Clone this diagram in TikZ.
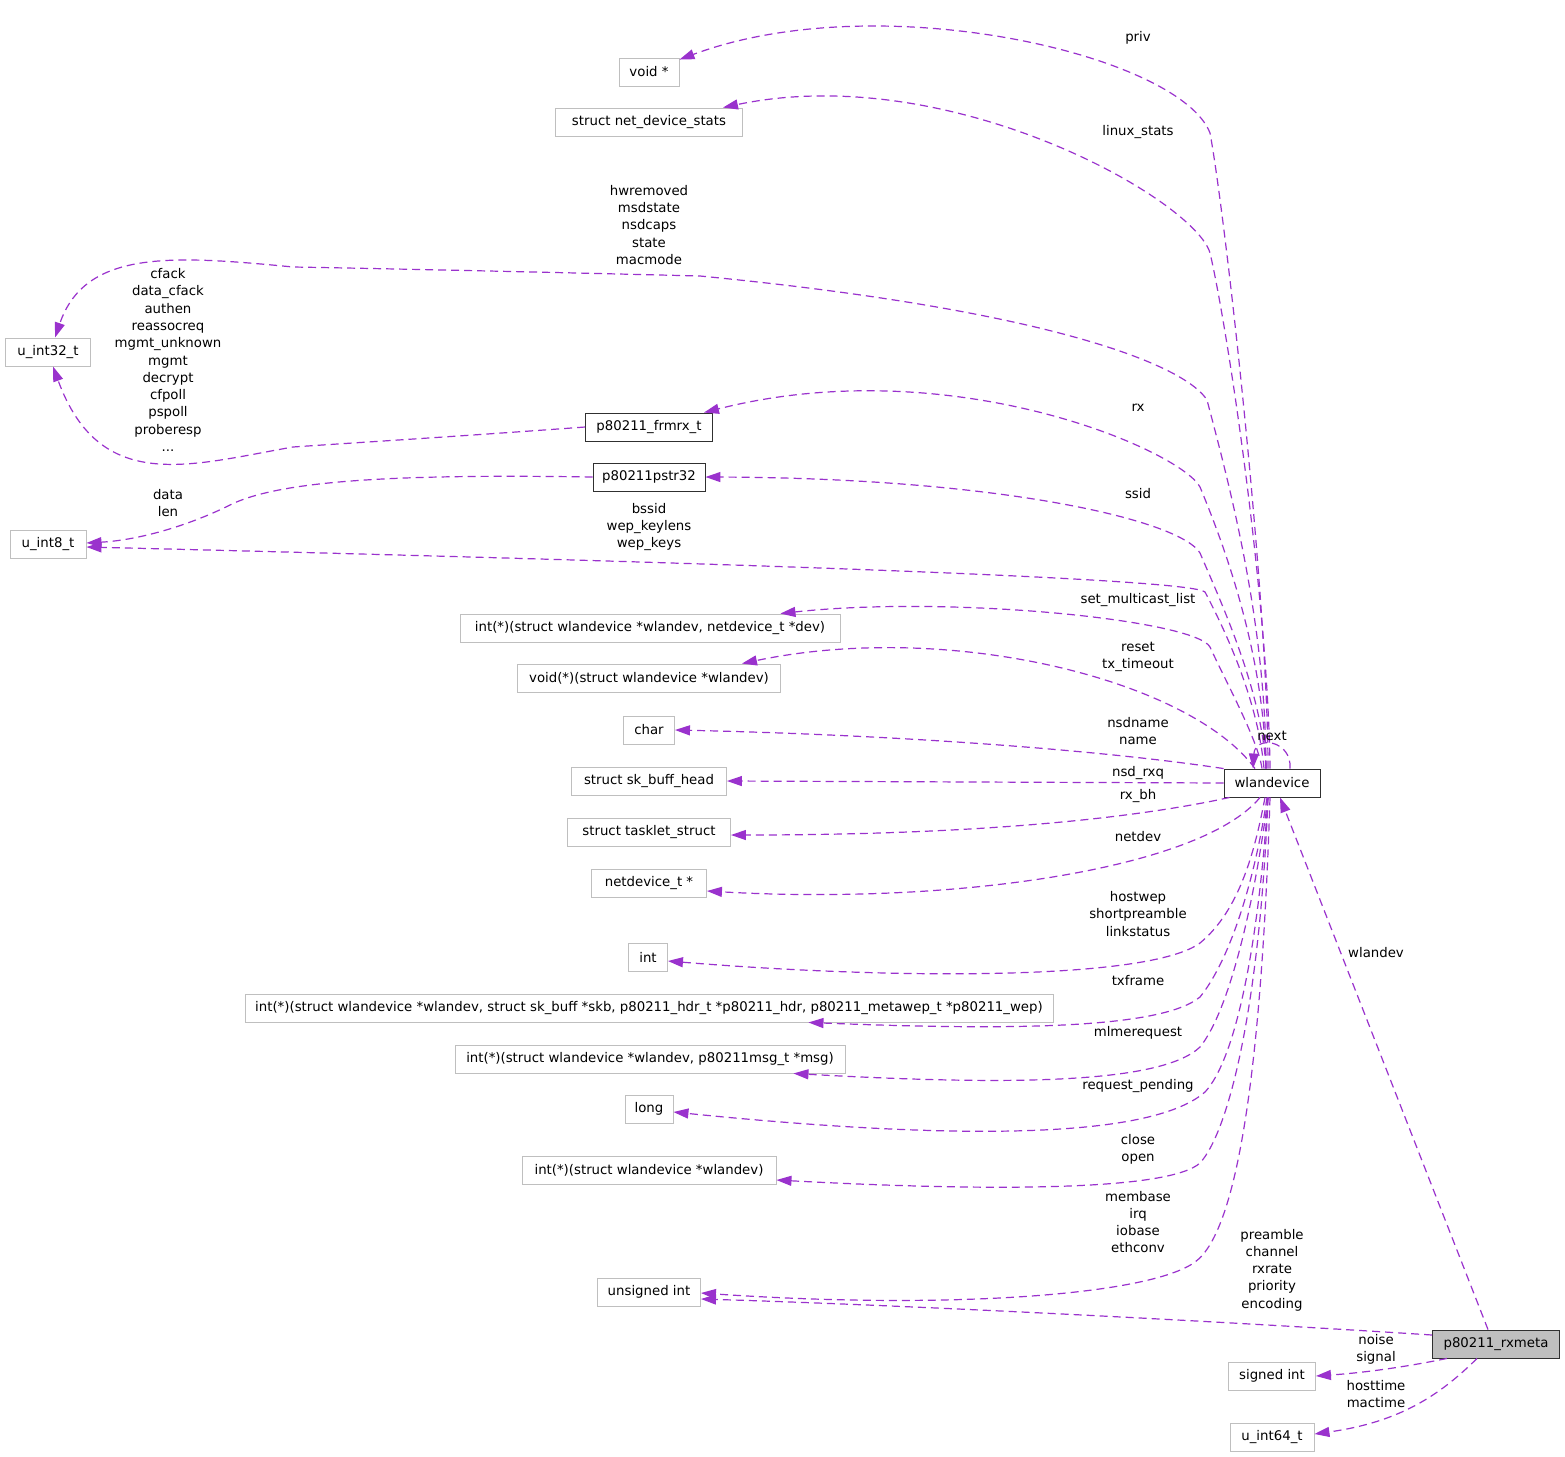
\documentclass[tikz,border=0pt]{standalone}
\usepackage{fontspec}
\setmainfont{DejaVu Sans}
\usetikzlibrary{arrows.meta}
\definecolor{edgepurple}{HTML}{9A32CD}
\definecolor{boxgrey}{HTML}{BFBFBF}
\definecolor{boxdark}{HTML}{303030}

\begin{document}
\begin{tikzpicture}[x=1pt, y=-1pt,
    every node/.style={font=\fontsize{13.3}{17.3}\selectfont},
    ext/.style={draw=boxgrey, line width=0.9pt, fill=white, minimum height=28pt, inner sep=0pt},
    doc/.style={ext, draw=boxdark},
    cur/.style={doc, fill=boxgrey},
    dep/.style={->, >={Triangle[length=15pt,width=10pt]}, edgepurple, line width=1.2pt, dash pattern=on 8pt off 5pt},
    lbl/.style={align=center, inner sep=0pt}]
    \path[fill=white, use as bounding box] (0,0) rectangle (1565,1456);

    \node[ext, minimum width=60pt] (void) at (649,72) {void *};
    \node[ext, minimum width=187pt] (nds) at (649,122) {struct net\_device\_stats};
    \node[ext, minimum width=85pt] (u32) at (48,352) {u\_int32\_t};
    \node[doc, minimum width=127pt] (frmrx) at (649,427) {p80211\_frmrx\_t};
    \node[doc, minimum width=112pt] (pstr) at (649,477) {p80211pstr32};
    \node[ext, minimum width=76pt] (u8) at (48,544) {u\_int8\_t};
    \node[ext, minimum width=380pt] (fnMc) at (650,628) {int(*)(struct wlandevice *wlandev, netdevice\_t *dev)};
    \node[ext, minimum width=263pt] (fnReset) at (649,678) {void(*)(struct wlandevice *wlandev)};
    \node[ext, minimum width=51pt] (char) at (649,730) {char};
    \node[ext, minimum width=155pt] (skb) at (649,781) {struct sk\_buff\_head};
    \node[ext, minimum width=163pt] (tasklet) at (649,832) {struct tasklet\_struct};
    \node[ext, minimum width=115pt] (netdevp) at (649,883) {netdevice\_t *};
    \node[ext, minimum width=39pt] (int) at (648,957) {int};
    \node[ext, minimum width=808pt] (fnTx) at (649,1008) {int(*)(struct wlandevice *wlandev, struct sk\_buff *skb, p80211\_hdr\_t *p80211\_hdr, p80211\_metawep\_t *p80211\_wep)};
    \node[ext, minimum width=390pt] (fnMlme) at (650,1059) {int(*)(struct wlandevice *wlandev, p80211msg\_t *msg)};
    \node[ext, minimum width=48pt] (long) at (649,1109) {long};
    \node[ext, minimum width=254pt] (fnOpen) at (649,1170) {int(*)(struct wlandevice *wlandev)};
    \node[ext, minimum width=103pt] (uint) at (649,1292) {unsigned int};
    \node[doc, minimum width=96pt] (wl) at (1272,783) {wlandevice};
    \node[cur, minimum width=127pt] (rxm) at (1496,1344) {p80211\_rxmeta};
    \node[ext, minimum width=87pt] (sint) at (1272,1376) {signed int};
    \node[ext, minimum width=84pt] (u64) at (1272,1437) {u\_int64\_t};

    \draw[dep] ([xshift=-4pt]wl.north) .. controls (1268,600) and (1226,220) .. (1210,133) .. controls (1180,55) and (880,-15) .. ([yshift=-2pt]void.north east);
    \draw[dep] ([xshift=-2pt]wl.north) .. controls (1268,600) and (1228,330) .. (1210,253) .. controls (1195,200) and (950,60) .. ([xshift=-20pt]nds.north east);
    \draw[dep] ([xshift=-6pt]wl.north) .. controls (1266,620) and (1228,480) .. (1207,400) .. controls (1185,365) and (1050,310) .. (700,276) .. controls (500,271) and (350,268) .. (293,267) .. controls (170,255) and (85,250) .. ([xshift=7pt]u32.north);
    \draw[dep] (frmrx.west) .. controls (450,437) and (350,443) .. (293,447) .. controls (190,465) and (100,495) .. ([xshift=5pt]u32.south);
    \draw[dep] ([xshift=-6pt]wl.north) .. controls (1264,650) and (1222,540) .. (1200,487) .. controls (1180,450) and (950,350) .. ([xshift=-9pt]frmrx.north east);
    \draw[dep] ([xshift=-6pt]wl.north) .. controls (1262,690) and (1220,600) .. (1200,553) .. controls (1180,520) and (1000,478) .. (pstr.east);
    \draw[dep] (pstr.west) .. controls (400,474) and (280,480) .. (230,505) .. controls (190,525) and (140,540) .. ([yshift=1pt]u8.east);
    \draw[dep] ([xshift=-8pt]wl.north) .. controls (1258,700) and (1225,630) .. (1205,592) .. controls (1190,578) and (700,562) .. ([yshift=-3pt]u8.east);
    \draw[dep] ([xshift=-10pt]wl.north) .. controls (1258,740) and (1225,680) .. (1210,647) .. controls (1195,620) and (950,595) .. ([xshift=-60pt]fnMc.north east);
    \draw[dep] ([xshift=-17pt]wl.north) .. controls (1190,680) and (950,620) .. ([xshift=-39pt]fnReset.north east);
    \draw[dep] (wl.north west) .. controls (1100,750) and (900,735) .. (char.east);
    \draw[dep] (wl.west) -- (skb.east);
    \draw[dep] ([xshift=6pt]wl.south west) .. controls (1150,815) and (1000,835) .. ([yshift=-3pt]tasklet.east);
    \draw[dep] ([xshift=-12pt]wl.south) .. controls (1200,870) and (950,905) .. ([yshift=-8pt]netdevp.east);
    \draw[dep] ([xshift=-7pt]wl.south) .. controls (1255,850) and (1240,910) .. (1200,943) .. controls (1150,980) and (900,980) .. ([yshift=-4pt]int.east);
    \draw[dep] ([xshift=-5pt]wl.south) .. controls (1255,880) and (1230,960) .. (1200,997) .. controls (1160,1030) and (1000,1030) .. ([xshift=-245pt]fnTx.south east);
    \draw[dep] ([xshift=-4pt]wl.south) .. controls (1255,900) and (1230,1010) .. (1200,1047) .. controls (1160,1085) and (1000,1085) .. ([xshift=-52pt]fnMlme.south east);
    \draw[dep] ([xshift=-4pt]wl.south) .. controls (1258,950) and (1235,1060) .. (1205,1092) .. controls (1150,1140) and (950,1140) .. ([yshift=-3pt]long.east);
    \draw[dep] ([xshift=-4pt]wl.south) .. controls (1260,1000) and (1230,1130) .. (1200,1163) .. controls (1170,1190) and (1000,1192) .. ([yshift=-10pt]fnOpen.east);
    \draw[dep] ([xshift=-2pt]wl.south) .. controls (1262,1050) and (1240,1230) .. (1195,1262) .. controls (1150,1295) and (950,1310) .. ([yshift=-1pt]uint.east);
    \draw[dep] ([xshift=18pt]wl.north) .. controls (1292,740) and (1255,735) .. ([xshift=-19pt]wl.north);
    \draw[dep] ([xshift=-8pt]rxm.north) -- ([xshift=8pt]wl.south);
    \draw[dep] ([yshift=9pt]rxm.west) .. controls (1200,1320) and (900,1305) .. ([yshift=-7pt]uint.east);
    \draw[dep] ([xshift=-49pt]rxm.south) .. controls (1400,1368) and (1360,1373) .. (sint.east);
    \draw[dep] ([xshift=-19pt]rxm.south) .. controls (1440,1395) and (1400,1422) .. ([yshift=3pt]u64.east);

    \node[lbl] (lPriv) at (1138,38) {priv};
    \node[lbl] (lStats) at (1138,132) {linux\_stats};
    \node[lbl] (lState) at (649,225) {hwremoved\\msdstate\\nsdcaps\\state\\macmode};
    \node[lbl] (lFrm) at (168,360) {cfack\\data\_cfack\\authen\\reassocreq\\mgmt\_unknown\\mgmt\\decrypt\\cfpoll\\pspoll\\proberesp\\...};
    \node[lbl] (lRx) at (1138,408) {rx};
    \node[lbl] (lSsid) at (1138,494) {ssid};
    \node[lbl] (lData) at (168,503) {data\\len};
    \node[lbl] (lBssid) at (649,527) {bssid\\wep\_keylens\\wep\_keys};
    \node[lbl] (lMc) at (1138,600) {set\_multicast\_list};
    \node[lbl] (lReset) at (1138,657) {reset\\tx\_timeout};
    \node[lbl] (lName) at (1138,731) {nsdname\\name};
    \node[lbl] (lNext) at (1272,736) {next};
    \node[lbl] (lRxq) at (1138,773) {nsd\_rxq};
    \node[lbl] (lBh) at (1138,796) {rx\_bh};
    \node[lbl] (lNetdev) at (1138,837) {netdev};
    \node[lbl] (lWep) at (1138,914) {hostwep\\shortpreamble\\linkstatus};
    \node[lbl] (lTx) at (1138,981) {txframe};
    \node[lbl] (lMlme) at (1138,1033) {mlmerequest};
    \node[lbl] (lPend) at (1138,1086) {request\_pending};
    \node[lbl] (lOpen) at (1138,1149) {close\\open};
    \node[lbl] (lMem) at (1138,1222) {membase\\irq\\iobase\\ethconv};
    \node[lbl] (lWlan) at (1376,953) {wlandev};
    \node[lbl] (lPre) at (1272,1270) {preamble\\channel\\rxrate\\priority\\encoding};
    \node[lbl] (lNoise) at (1376,1349) {noise\\signal};
    \node[lbl] (lTime) at (1376,1394) {hosttime\\mactime};
\end{tikzpicture}
\end{document}
